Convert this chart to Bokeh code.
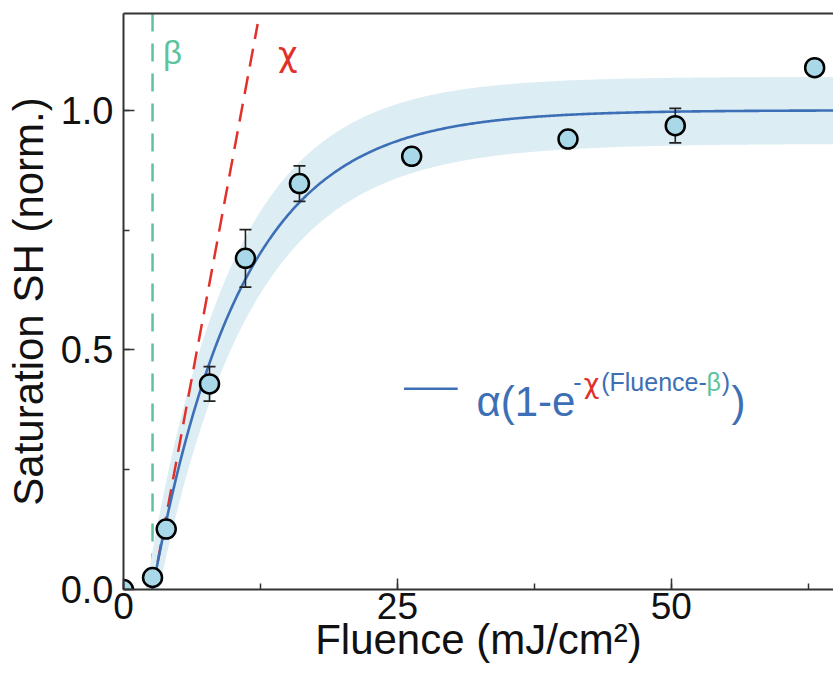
import numpy as np
from bokeh.plotting import figure
from bokeh.models import (Label, LinearAxis, SingleIntervalTicker, FixedTicker,
                          Span, Range1d, NumeralTickFormatter)
from bokeh.embed import file_html
from bokeh.resources import INLINE

# ---- data ----
fluence = [0.0, 2.65, 3.9, 7.85, 11.13, 16.06, 26.3, 40.57, 50.36, 63.08]
shg = [0.0, 0.025, 0.126, 0.429, 0.691, 0.847, 0.904, 0.940, 0.968, 1.089]
shg_err = [0.0, 0.0, 0.0, 0.036, 0.060, 0.037, 0.0, 0.0, 0.036, 0.0]

# fit parameters  alpha(1-exp(-chi(F-beta)))
alpha = 1.0
beta = 2.65
chi = 0.123
# uncertainty band parameters
d_alpha = 0.07
d_beta = 0.6
d_chi = 0.005

x_ticks = [0, 25, 50]
y_ticks = [0.0, 0.5, 1.0]

X_END = 64.8
Y_END = 1.202

# legend swatch placement (data units)
legend_x = [25.6, 30.5]
legend_y = 0.419

FONT = "Liberation Sans"
BLUE = "#3d6fb6"
RED = "#e2302b"
GREEN = "#5cc39d"
BAND = "#dcedf4"
FILL = "#a9d9e8"

p = figure(width=833, height=675, output_backend="svg", toolbar_location=None,
           x_range=Range1d(0, X_END), y_range=Range1d(0, Y_END),
           min_border_left=123, min_border_right=0, min_border_top=13, min_border_bottom=86)
p.outline_line_color = None
p.grid.visible = False
p.background_fill_color = "white"
p.border_fill_color = "white"

# band
Fb = np.linspace(beta - d_beta, X_END, 500)
upper = np.clip((alpha + d_alpha) * (1 - np.exp(-(chi + d_chi) * (Fb - (beta - d_beta)))), 0, None)
lower = np.clip((alpha - d_alpha) * (1 - np.exp(-(chi - d_chi) * (Fb - (beta + d_beta)))), 0, None)
p.varea(x=Fb, y1=lower, y2=upper, fill_color=BAND, fill_alpha=1.0)

# green beta line
p.add_layout(Span(location=beta, dimension="height", line_color=GREEN, line_width=2.5,
                  line_dash="18 12", level="underlay"))

# red tangent
y_tan_end = 1.18
Ft = np.array([beta, beta + y_tan_end / (alpha * chi)])
p.line(Ft, alpha * chi * (Ft - beta), line_color=RED, line_width=2.5, line_dash="18 10")

# fit curve
Fc = np.linspace(beta, X_END, 500)
p.line(Fc, alpha * (1 - np.exp(-chi * (Fc - beta))), line_color=BLUE, line_width=2.6)

# error bars (only where an error is shown)
ex = [f for f, e in zip(fluence, shg_err) if e > 0]
ey = [s for s, e in zip(shg, shg_err) if e > 0]
ee = [e for e in shg_err if e > 0]
lo = [a - b for a, b in zip(ey, ee)]
hi = [a + b for a, b in zip(ey, ee)]
p.segment(x0=ex, y0=lo, x1=ex, y1=hi, line_color="#222222", line_width=1.6)
p.scatter(x=ex + ex, y=lo + hi, marker="dash", size=12, line_color="#222222", line_width=1.6)

# data points
p.scatter(x=fluence, y=shg, size=19, fill_color=FILL, line_color="black", line_width=2.5)

# axes
xa = p.xaxis[0]
xa.ticker = SingleIntervalTicker(interval=25, num_minor_ticks=2)
xa.axis_label = "Fluence (mJ/cm²)"
ya = p.yaxis[0]
ya.ticker = SingleIntervalTicker(interval=0.5, num_minor_ticks=2)
ya.formatter = NumeralTickFormatter(format="0.0")
ya.axis_label = "Saturation SH (norm.)"
for ax in (xa, ya):
    ax.axis_line_color = "#333333"
    ax.axis_line_width = 2
    ax.major_tick_line_color = "#333333"
    ax.minor_tick_line_color = "#333333"
    ax.major_tick_line_width = 1.5
    ax.minor_tick_line_width = 1.5
    ax.major_tick_in = 11
    ax.major_tick_out = 0
    ax.minor_tick_in = 6
    ax.minor_tick_out = 0
    ax.major_label_text_font = FONT
    ax.major_label_text_font_size = "38px"
    ax.major_label_text_color = "#111111"
    ax.axis_label_text_font = FONT
    ax.axis_label_text_font_size = "42px"
    ax.axis_label_text_font_style = "normal"
    ax.axis_label_text_color = "#111111"
xa.major_label_text_font_size = "37px"
xa.major_label_standoff = 3
xa.axis_label_standoff = -6
ya.major_label_standoff = 10
ya.axis_label_standoff = 6

top = LinearAxis(ticker=FixedTicker(ticks=[]),
                 major_tick_in=0, major_tick_out=0, minor_tick_in=0, minor_tick_out=0,
                 axis_line_color="#333333", axis_line_width=2, major_label_standoff=0)
p.add_layout(top, "above")

# legend swatch
p.line(x=legend_x, y=[legend_y, legend_y], line_color=BLUE, line_width=2.6)

# formula text pieces
big_y = 0.392
sup_y = 0.433
pieces = [
    ("α(1-e", 32.21, big_y, BLUE, "42px", FONT),
    ("-", 41.05, sup_y, BLUE, "25px", FONT),
    ("χ", 42.0, sup_y - 0.004, RED, "27px", "DejaVu Sans"),
    ("(Fluence-", 43.6, sup_y, BLUE, "25px", FONT),
    ("β", 53.2, sup_y, GREEN, "25px", FONT),
    (")", 54.6, sup_y, BLUE, "25px", FONT),
    (")", 55.5, big_y, BLUE, "42px", FONT),
]
for t, x, y, c, s, f in pieces:
    p.add_layout(Label(x=x, y=y, text=t, text_color=c, text_font=f, text_font_size=s,
                       text_baseline="alphabetic", text_align="left"))

# beta and chi labels
p.add_layout(Label(x=3.6, y=1.12, text="β", text_color=GREEN, text_font=FONT,
                   text_font_size="33px", text_baseline="alphabetic"))
p.add_layout(Label(x=14.1, y=1.118, text="χ", text_color=RED, text_font="DejaVu Sans",
                   text_font_size="34px", text_baseline="alphabetic"))

open("out.html", "w").write(file_html(p, INLINE))
